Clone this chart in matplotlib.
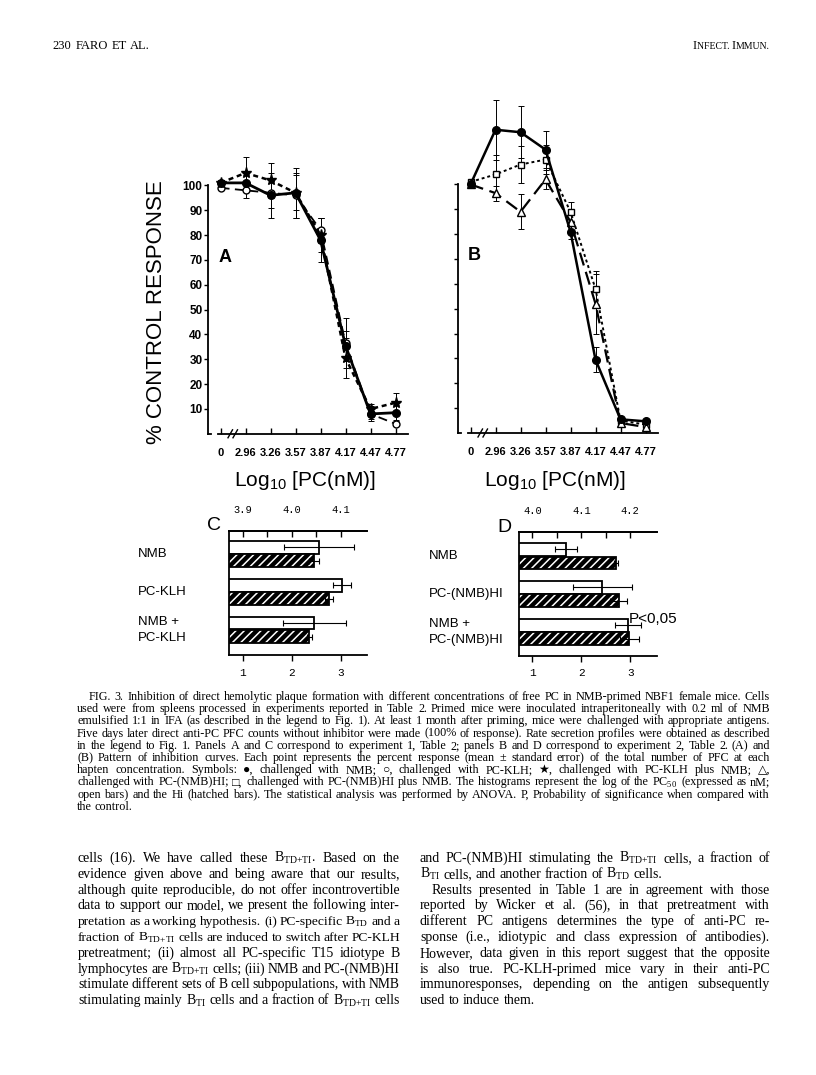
import matplotlib
matplotlib.use("Agg")
import matplotlib.pyplot as plt
import matplotlib.transforms as mtransforms

# ── page / fonts ──────────────────────────────────────────────────────────
W, H, DPI = 816, 1075, 100
SERIF  = ["Liberation Serif", "DejaVu Serif", "DejaVu Sans"]
SANS   = ["Liberation Sans", "DejaVu Sans"]
NARROW = ["Liberation Sans Narrow", "Liberation Sans", "DejaVu Sans"]
MONO   = ["Liberation Mono", "DejaVu Sans Mono"]

plt.rcParams["mathtext.fontset"] = "custom"
plt.rcParams["mathtext.rm"] = "Liberation Serif"
plt.rcParams["mathtext.sf"] = "Liberation Sans"
plt.rcParams["hatch.linewidth"] = 1.1

# ── data ──────────────────────────────────────────────────────────────────
conc_labels = ["0", "2.96", "3.26", "3.57", "3.87", "4.17", "4.47", "4.77"]

# panel A (experiment 1)
a_nmb      = [101, 101, 96, 97, 78, 35.5, 8, 8.5]
a_nmb_err  = [1, 3, 9, 7, 9, 6, 3, 3]
a_klh      = [99, 98, 97, 96, 82, 36.5, 8, 4]
a_klh_err  = [1, 3, 6, 9, 5, 10, 2, 1]
a_both     = [101, 105, 102, 97, 80, 30.5, 10, 12.5]
a_both_err = [1, 6.5, 7, 10, 7, 8, 2, 4]

# panel B (experiment 2)
b_nmb      = [100, 122, 121, 114, 81, 29.5, 5.5, 4.7]
b_nmb_err  = [1, 12, 10.5, 7.5, 3, 5, 1, 1]
b_hinmb    = [101, 104, 108, 110, 89, 58, 5, 3.4]
b_hinmb_err = [1, 8, 7.5, 6, 4, 7, 1, 1]
b_hi       = [100, 96.5, 89, 102, 85, 52, 4, 2.4]
b_hi_err   = [1, 3, 7, 4, 4, 12, 1, 1]

# panels C / D: log PC50 (open) and Hi (hatched)
c_groups     = ["NMB", "PC-KLH", "NMB +\nPC-KLH"]
c_open       = [2.56, 3.03, 2.46]
c_open_err   = [0.71, 0.18, 0.64]
c_hatch      = [2.46, 2.76, 2.36]
c_hatch_err  = [0.10, 0.09, 0.05]
c_top_ticks  = ["3.9", "4.0", "4.1"]

d_groups     = ["NMB", "PC-(NMB)HI", "NMB +\nPC-(NMB)HI"]
d_open       = [1.69, 2.43, 2.95]
d_open_err   = [0.23, 0.60, 0.26]
d_hatch      = [2.70, 2.76, 2.98]
d_hatch_err  = [0.04, 0.17, 0.20]
d_top_ticks  = ["4.0", "4.1", "4.2"]

bottom_ticks = ["1", "2", "3"]

fig = plt.figure(figsize=(W / DPI, H / DPI), dpi=DPI)
fig.patch.set_facecolor("white")
IDT = mtransforms.IdentityTransform()
R = fig.canvas.get_renderer()


def px_axes(l, t, r, b):
    return fig.add_axes([l / W, 1 - b / H, (r - l) / W, (b - t) / H])


def ptext(x, y, s, **kw):
    return fig.text(x / W, 1 - y / H, s, **kw)


# ── line panels ───────────────────────────────────────────────────────────
def curve_panel(ax, series, show_labels):
    xs = list(range(len(conc_labels)))
    for vals, err, kw in series:
        ax.errorbar(xs, vals, yerr=err, fmt="none", ecolor="black",
                    elinewidth=0.7, capsize=2, capthick=0.7, zorder=2,
                    clip_on=False)
        ax.plot(xs, vals, color="black", zorder=3, clip_on=False, **kw)
    ax.set_xlim(-0.5, 7.5)
    ax.set_ylim(0, 140)
    for s in ("top", "right"):
        ax.spines[s].set_visible(False)
    ax.spines["left"].set_bounds(0, 100)
    ax.spines["bottom"].set_bounds(-0.1, 7.5)
    ax.spines["left"].set_linewidth(1.3)
    ax.spines["bottom"].set_linewidth(1.3)
    ax.set_yticks(range(10, 101, 10))
    ax.set_xticks(xs)
    ax.set_xticklabels(conc_labels, family=NARROW, fontsize=8, weight="bold")
    ax.tick_params(axis="x", direction="in", length=4, width=1, pad=10)
    ax.tick_params(axis="y", direction="out", length=3, width=1, pad=1)
    if show_labels:
        ax.set_yticklabels([str(v) for v in range(10, 101, 10)],
                           family=NARROW, fontsize=8.5, weight="bold")
    else:
        ax.set_yticklabels([])
    # axis break mark
    for x0 in (0.3, 0.5):
        ax.plot([x0, x0 + 0.18], [-1.6, 1.6], color="black", lw=1.0,
                clip_on=False, zorder=4)
    ax.plot([-0.5, -0.38], [0, 0], color="black", lw=1.3, clip_on=False)
    ax.patch.set_alpha(0)


axA = px_axes(208, 86, 408, 433.8)
curve_panel(axA, [
    (a_klh, a_klh_err, dict(lw=1.3, dashes=(5, 3), marker="o", ms=5,
                            mfc="white", mec="black", mew=1)),
    (a_both, a_both_err, dict(lw=1.8, dashes=(2, 1.5), marker="*", ms=8)),
    (a_nmb, a_nmb_err, dict(lw=2.0, ls="-", marker="o", ms=5.5)),
], True)

axB = px_axes(458, 85, 658, 433)
curve_panel(axB, [
    (b_hinmb, b_hinmb_err, dict(lw=1.4, dashes=(1.5, 1.5), marker="s", ms=5,
                                mfc="white", mec="black", mew=1)),
    (b_hi, b_hi_err, dict(lw=1.6, dashes=(6, 3), marker="^", ms=5.5,
                          mfc="white", mec="black", mew=1)),
    (b_nmb, b_nmb_err, dict(lw=1.8, ls="-", marker="o", ms=5.5)),
], False)

ptext(157, 312, "% CONTROL RESPONSE", rotation=90, ha="center", va="center",
      family=SANS, fontsize=16)
ptext(225, 257, "A", ha="center", va="center", family=SANS, fontsize=13,
      weight="bold")
ptext(474, 256, "B", ha="center", va="center", family=SANS, fontsize=13,
      weight="bold")


# ── histogram panels ──────────────────────────────────────────────────────
def bar_panel(ax, groups, opn, opn_err, hat, hat_err, top0, top_labels,
              ylims, label_x):
    ys = list(range(len(groups)))
    yo = [y - 0.185 for y in ys]
    yh = [y + 0.175 for y in ys]
    ax.barh(yo, opn, height=0.34, color="white", edgecolor="black",
            linewidth=1.3, zorder=2)
    ax.barh(yh, hat, height=0.34, color="black", edgecolor="white",
            hatch="////", linewidth=0, zorder=2)
    ax.barh(yh, hat, height=0.34, fill=False, edgecolor="black",
            linewidth=1.3, zorder=3)
    ax.errorbar(opn, yo, xerr=opn_err, fmt="none", ecolor="black",
                elinewidth=0.8, capsize=2.5, capthick=0.8, zorder=4)
    ax.errorbar(hat, yh, xerr=hat_err, fmt="none", ecolor="black",
                elinewidth=0.8, capsize=2.5, capthick=0.8, zorder=4)
    ax.set_xlim(0.725, 3.54)
    ax.set_ylim(*ylims)
    ax.spines["right"].set_visible(False)
    for s in ("left", "top", "bottom"):
        ax.spines[s].set_linewidth(1.3)
    ax.set_yticks([])
    ax.set_xticks([1, 2, 3])
    ax.set_xticklabels(bottom_ticks, family=MONO, fontsize=8)
    ax.tick_params(axis="x", direction="out", length=4, width=1, pad=5)
    sec = ax.secondary_xaxis("top", functions=(lambda x: top0 + 0.1 * x,
                                                lambda t: (t - top0) / 0.1))
    sec.set_xticks([top0 + 0.1, top0 + 0.2, top0 + 0.3])
    sec.set_xticklabels(top_labels, family=MONO, fontsize=7.5)
    sec.set_xticks([top0 + 0.15, top0 + 0.25], minor=True)
    sec.tick_params(which="both", direction="in", length=4, width=1, pad=11)
    sec.spines["top"].set_linewidth(1.3)
    tr = mtransforms.blended_transform_factory(fig.transFigure, ax.transData)
    for y, g in zip(ys, groups):
        ax.text(label_x / W, y, g, transform=tr, ha="left", va="center",
                family=SANS, fontsize=9.5, linespacing=1.5)


axC = px_axes(229.3, 530.7, 367.3, 655)
bar_panel(axC, c_groups, c_open, c_open_err, c_hatch, c_hatch_err, 3.8,
          c_top_ticks, (2.66, -0.62), 138)
axD = px_axes(519, 531.7, 656.7, 656)
bar_panel(axD, d_groups, d_open, d_open_err, d_hatch, d_hatch_err, 3.9,
          d_top_ticks, (2.63, -0.65), 429)

ptext(214, 526, "C", ha="center", va="center", family=SANS, fontsize=14)
ptext(504, 528, "D", ha="center", va="center", family=SANS, fontsize=14)
ptext(629, 619, "P<0,05", ha="left", va="center", family=SANS, fontsize=11)

title = r"$\mathsf{Log}_{\mathsf{10}}$ [PC(nM)]"
ptext(305, 480, title, ha="center", va="center", family=SANS, fontsize=15)
ptext(555, 480, title, ha="center", va="center", family=SANS, fontsize=15)


# ── page text ─────────────────────────────────────────────────────────────
def put_line(s, x0, x1, y, size, just=True):
    words = s.split()
    while True:
        arts = [fig.text(0, H - y, w, transform=IDT, fontsize=size,
                         family=SERIF, va="baseline") for w in words]
        wid = [a.get_window_extent(R).width for a in arts]
        space = size * DPI / 72 * 0.25
        gap = space
        if just and len(words) > 1:
            gap = (x1 - x0 - sum(wid)) / (len(words) - 1)
        if gap >= 0.8 * space:
            break
        for a in arts:          # too wide: shrink this line a little
            a.remove()
        size -= 0.1
    x = x0
    for a, w in zip(arts, wid):
        a.set_x(x)
        x += w + gap


def put_segments(segs, x_right, y):
    arts = [fig.text(0, H - y, s, transform=IDT, fontsize=sz, family=SERIF,
                     va="baseline") for s, sz in segs]
    wid = [a.get_window_extent(R).width for a in arts]
    x = x_right - sum(wid)
    for a, w in zip(arts, wid):
        a.set_x(x)
        x += w


put_line("230", 52, 70, 49, 9, just=False)
put_line("FARO ET AL.", 76, 200, 49, 9, just=False)
put_segments([("I", 9), ("NFECT. ", 7), ("I", 9), ("MMUN.", 7)], 770, 49)

BTT = r"B$_{\mathrm{TD{+}TI}}$"
BTD = r"B$_{\mathrm{TD}}$"
BTI = r"B$_{\mathrm{TI}}$"

caption = [
    "FIG. 3. Inhibition of direct hemolytic plaque formation with different concentrations of free PC in NMB-primed NBF1 female mice. Cells",
    "used were from spleens processed in experiments reported in Table 2. Primed mice were inoculated intraperitoneally with 0.2 ml of NMB",
    "emulsified 1:1 in IFA (as described in the legend to Fig. 1). At least 1 month after priming, mice were challenged with appropriate antigens.",
    "Five days later direct anti-PC PFC counts without inhibitor were made (100% of response). Rate secretion profiles were obtained as described",
    "in the legend to Fig. 1. Panels A and C correspond to experiment 1, Table 2; panels B and D correspond to experiment 2, Table 2. (A) and",
    "(B) Pattern of inhibition curves. Each point represents the percent response (mean \u00b1 standard error) of the total number of PFC at each",
    "hapten concentration. Symbols: \u25cf, challenged with NMB; \u25cb, challenged with PC-KLH; \u2605, challenged with PC-KLH plus NMB; \u25b3,",
    "challenged with PC-(NMB)HI; \u25a1, challenged with PC-(NMB)HI plus NMB. The histograms represent the log of the PC$_{50}$ (expressed as nM;",
    "open bars) and the Hi (hatched bars). The statistical analysis was performed by ANOVA. P, Probability of significance when compared with",
    "the control.",
]
for i, line in enumerate(caption):
    x0 = 89 if i == 0 else 77
    put_line(line, x0, 770, 700 + i * 12.2, 8.7, just=(i < len(caption) - 1))

left_col = [
    f"cells (16). We have called these {BTT}. Based on the",
    "evidence given above and being aware that our results,",
    "although quite reproducible, do not offer incontrovertible",
    "data to support our model, we present the following inter-",
    f"pretation as a working hypothesis. (i) PC-specific {BTD} and a",
    f"fraction of {BTT} cells are induced to switch after PC-KLH",
    "pretreatment; (ii) almost all PC-specific T15 idiotype B",
    f"lymphocytes are {BTT} cells; (iii) NMB and PC-(NMB)HI",
    "stimulate different sets of B cell subpopulations, with NMB",
    f"stimulating mainly {BTI} cells and a fraction of {BTT} cells",
]
right_col = [
    f"and PC-(NMB)HI stimulating the {BTT} cells, a fraction of",
    f"{BTI} cells, and another fraction of {BTD} cells.",
    "Results presented in Table 1 are in agreement with those",
    "reported by Wicker et al. (56), in that pretreatment with",
    "different PC antigens determines the type of anti-PC re-",
    "sponse (i.e., idiotypic and class expression of antibodies).",
    "However, data given in this report suggest that the opposite",
    "is also true. PC-KLH-primed mice vary in their anti-PC",
    "immunoresponses, depending on the antigen subsequently",
    "used to induce them.",
]
for i, line in enumerate(left_col):
    put_line(line, 78, 400, 862 + i * 15.8, 10.0)
for i, line in enumerate(right_col):
    x0 = 432 if i == 2 else 420
    put_line(line, x0, 770, 862 + i * 15.8, 10.0, just=i not in (1, 9))

fig.savefig("out.png", dpi=DPI, facecolor="white")
